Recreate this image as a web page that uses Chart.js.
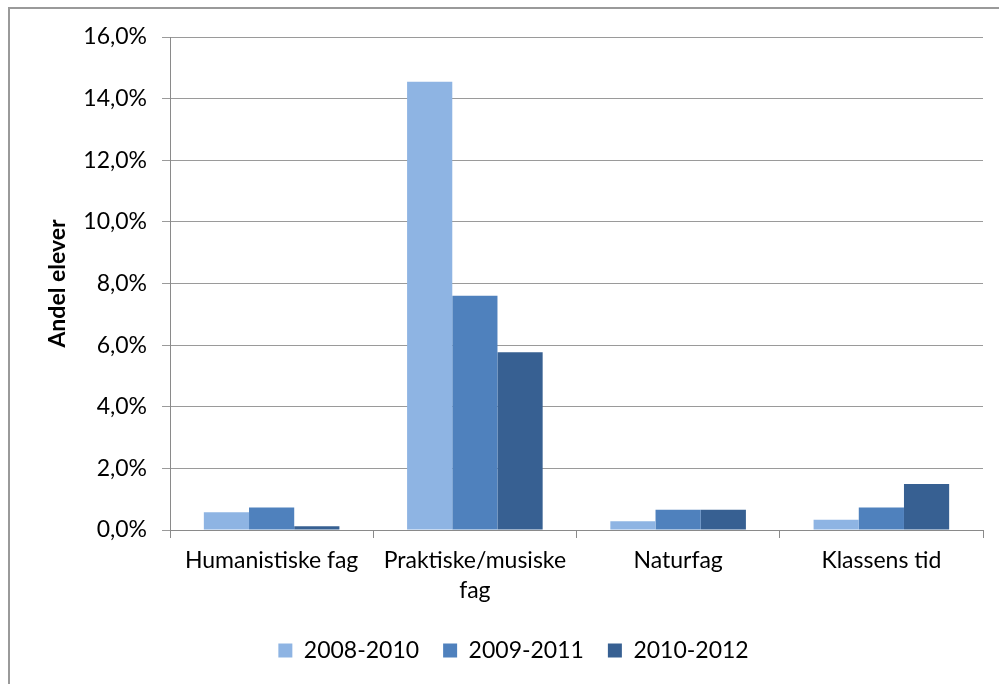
<!DOCTYPE html>
<html>
<head>
<meta charset="utf-8">
<script src="https://cdn.jsdelivr.net/npm/chart.js@4"></script>
<style>
html,body{margin:0;padding:0;background:#fff}
#wrap{position:relative;width:999px;height:684px}
#frame{position:absolute;left:8px;top:7px;width:1010px;height:700px;border:2px solid #9a9a9a;pointer-events:none}
</style>
</head>
<body>
<div id="wrap">
<canvas id="chart" width="999" height="684"></canvas>
<div id="frame"></div>
</div>
<script>
// kategorier og verdier (prosent)
categories = [["Humanistiske fag"], ["Praktiske/musiske", "fag"], ["Naturfag"], ["Klassens tid"]]
seriesNames = ["2008-2010", "2009-2011", "2010-2012"]
s2008_2010 = [0.58, 14.55, 0.28, 0.33]
s2009_2011 = [0.73, 7.6, 0.66, 0.73]
s2010_2012 = [0.12, 5.77, 0.66, 1.49]
colors = ['#8EB4E3', '#4F81BD', '#376092']

Chart.defaults.font.family = 'Lato, "Open Sans", sans-serif'
Chart.defaults.font.size = 24
Chart.defaults.color = '#000'

var ctx = document.getElementById('chart').getContext('2d')
var myChart = new Chart(ctx, {
  type: 'bar',
  data: {
    labels: categories,
    datasets: [s2008_2010, s2009_2011, s2010_2012].map((d, i) => {
      return {
        label: seriesNames[i],
        data: d,
        backgroundColor: colors[i],
        categoryPercentage: 0.667,
        barPercentage: 1
      }
    })
  },
  options: {
    responsive: false,
    animation: false,
    layout: {padding: {left: 44, right: 16, top: 37, bottom: 12}},
    plugins: {
      tooltip: {enabled: false},
      legend: {
        position: 'bottom',
        labels: {boxWidth: 14, boxHeight: 14, padding: 24, font: {size: 23}}
      }
    },
    scales: {
      x: {
        grid: {drawOnChartArea: false, offset: true, tickLength: 8, color: '#8a8a8a'},
        border: {color: '#8a8a8a'},
        ticks: {padding: 8, maxRotation: 0, font: {size: 23, lineHeight: 1.3}},
        afterFit: (s) => { s.height = 85 }
      },
      y: {
        min: 0,
        max: 16,
        ticks: {
          stepSize: 2,
          padding: 15,
          font: {size: 23},
          callback: (v) => v.toFixed(1).replace('.', ',') + '%'
        },
        grid: {color: '#9a9a9a', tickLength: 8},
        border: {color: '#8a8a8a'},
        title: {display: true, text: 'Andel elever', font: {size: 23, weight: 'bold'}, padding: {top: 0, bottom: 4}},
        afterFit: (s) => { s.width = 126 }
      }
    }
  }
})
</script>
</body>
</html>
